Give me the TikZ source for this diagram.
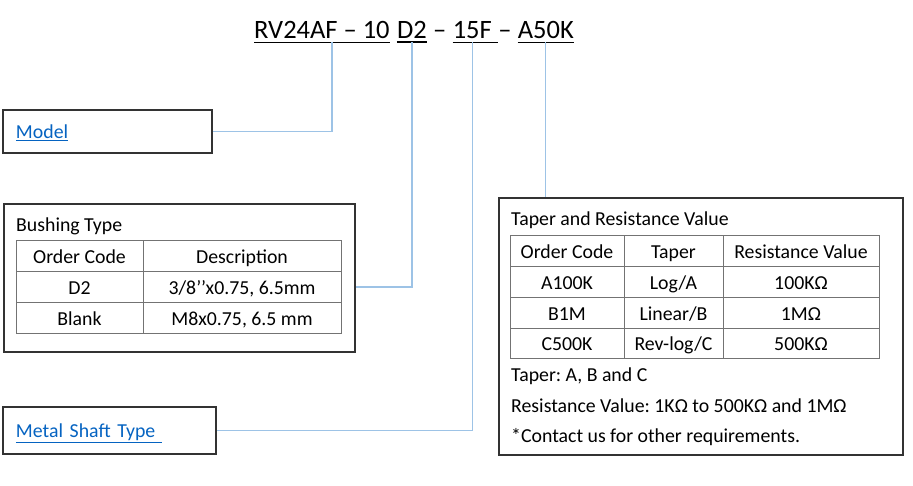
\documentclass[tikz,border=0pt]{standalone}
\usepackage{fontspec}
\setmainfont{Carlito}
\usetikzlibrary{positioning}
\definecolor{linkblue}{HTML}{0563C1}
\definecolor{wireblue}{HTML}{9DC3E6}
\frenchspacing
\newcommand{\ulink}[1]{\textcolor{linkblue}{\underline{#1}}}
\newcommand{\bodyfont}{\fontsize{19.8}{23}\selectfont}
\newcommand{\codefont}{\fontsize{26.5}{30}\selectfont}

\begin{document}
\begin{tikzpicture}[x=1pt, y=-1pt,
        code/.style={inner xsep=0pt, inner ysep=3pt, font=\codefont},
        uline/.style={line width=1.4pt},
        tagbox/.style={
            rectangle, draw=black!80, line width=1.1pt,
            inner xsep=13pt, align=left,
            text height=16pt, text depth=2pt,
            font=\bodyfont
        },
        groupbox/.style={rectangle, draw=black!80, line width=1.1pt},
        cell/.style={
            rectangle, draw=black!55, line width=1pt,
            minimum height=30.7pt, inner sep=0pt, outer sep=0pt,
            text height=15pt, text depth=0pt,
            font=\bodyfont
        },
        plain/.style={font=\bodyfont, inner sep=0pt, anchor=base west},
        wire/.style={draw=wireblue, line width=1.2pt},
        node distance=0pt
    ]
    \useasboundingbox (0,0) rectangle (913,486);

    % part number
    \node[code, anchor=base west] (rv) at (254,39) {RV24AF -- 10};
    \node[code, base right=7pt of rv] (d2) {D2};
    \node[code, base right=6pt of d2] (dash1) {--};
    \node[code, base right=6pt of dash1] (sf) {15F};
    \node[code, base right=6pt of sf] (dash2) {--};
    \node[code, base right=6pt of dash2] (a50) {A50K};

    \draw[uline] (rv.south west) -- (rv.south east);
    \draw[uline] (d2.south west) -- (d2.south east);
    \draw[uline] (sf.south west) -- ([xshift=6pt]sf.south east);
    \draw[uline] (a50.south west) -- (a50.south east);

    % link boxes
    \node[tagbox, minimum width=209pt, minimum height=43pt, text width=183pt]
        (model) at (107.5,131.5) {\ulink{Model}};
    \node[tagbox, minimum width=213pt, minimum height=47pt, text width=187pt]
        (metal) at (109.5,430.5) {\ulink{Metal Shaft Type\ }};

    % bushing table
    \node[groupbox, minimum width=351pt, minimum height=148pt] (bushing) at (179.5,278) {};
    \node[plain] (bushtitle) at (16,232) {Bushing Type};

    \node[cell, minimum width=127pt, anchor=north west] (bh1) at (16,241) {Order Code};
    \node[cell, minimum width=198pt, right=of bh1] (bh2) {Description};
    \node[cell, minimum width=127pt, below=of bh1] (bd1) {D2};
    \node[cell, minimum width=198pt, below=of bh2] (bd2) {3/8’\kern0pt’x0.75, 6.5mm};
    \node[cell, minimum width=127pt, below=of bd1] (bb1) {Blank};
    \node[cell, minimum width=198pt, below=of bd2] (bb2) {M8x0.75, 6.5 mm};

    % taper table
    \node[groupbox, minimum width=404pt, minimum height=257pt] (taper) at (701,326.5) {};
    \node[plain] (tapertitle) at (511,226) {Taper and Resistance Value};

    \node[cell, minimum width=114pt, anchor=north west] (th1) at (510,236) {Order Code};
    \node[cell, minimum width=99pt, right=of th1] (th2) {Taper};
    \node[cell, minimum width=156pt, right=of th2] (th3) {Resistance Value};

    \node[cell, minimum width=114pt, below=of th1] (ta1) {A100K};
    \node[cell, minimum width=99pt, below=of th2] (ta2) {Log/A};
    \node[cell, minimum width=156pt, below=of th3] (ta3) {100KΩ};

    \node[cell, minimum width=114pt, below=of ta1] (tb1) {B1M};
    \node[cell, minimum width=99pt, below=of ta2] (tb2) {Linear/B};
    \node[cell, minimum width=156pt, below=of ta3] (tb3) {1MΩ};

    \node[cell, minimum width=114pt, below=of tb1] (tc1) {C500K};
    \node[cell, minimum width=99pt, below=of tb2] (tc2) {Rev-log/C};
    \node[cell, minimum width=156pt, below=of tb3] (tc3) {500KΩ};

    \node[plain] (note1) at (511,381) {Taper: A, B and C};
    \node[plain] (note2) at (511,412) {Resistance Value: 1KΩ to 500KΩ and 1MΩ};
    \node[plain] (note3) at (511,442) {*Contact us for other requirements.};

    % connectors
    \coordinate (rvtap) at ([xshift=10pt]rv.south);
    \coordinate (bushin) at ([yshift=-9pt]bushing.east);
    \draw[wire] (rvtap) |- (model.east);
    \draw[wire] (d2.south) |- (bushin);
    \draw[wire] (sf.south) |- (metal.east);
    \draw[wire] (a50.south) -- (a50.south |- taper.north);

\end{tikzpicture}
\end{document}
